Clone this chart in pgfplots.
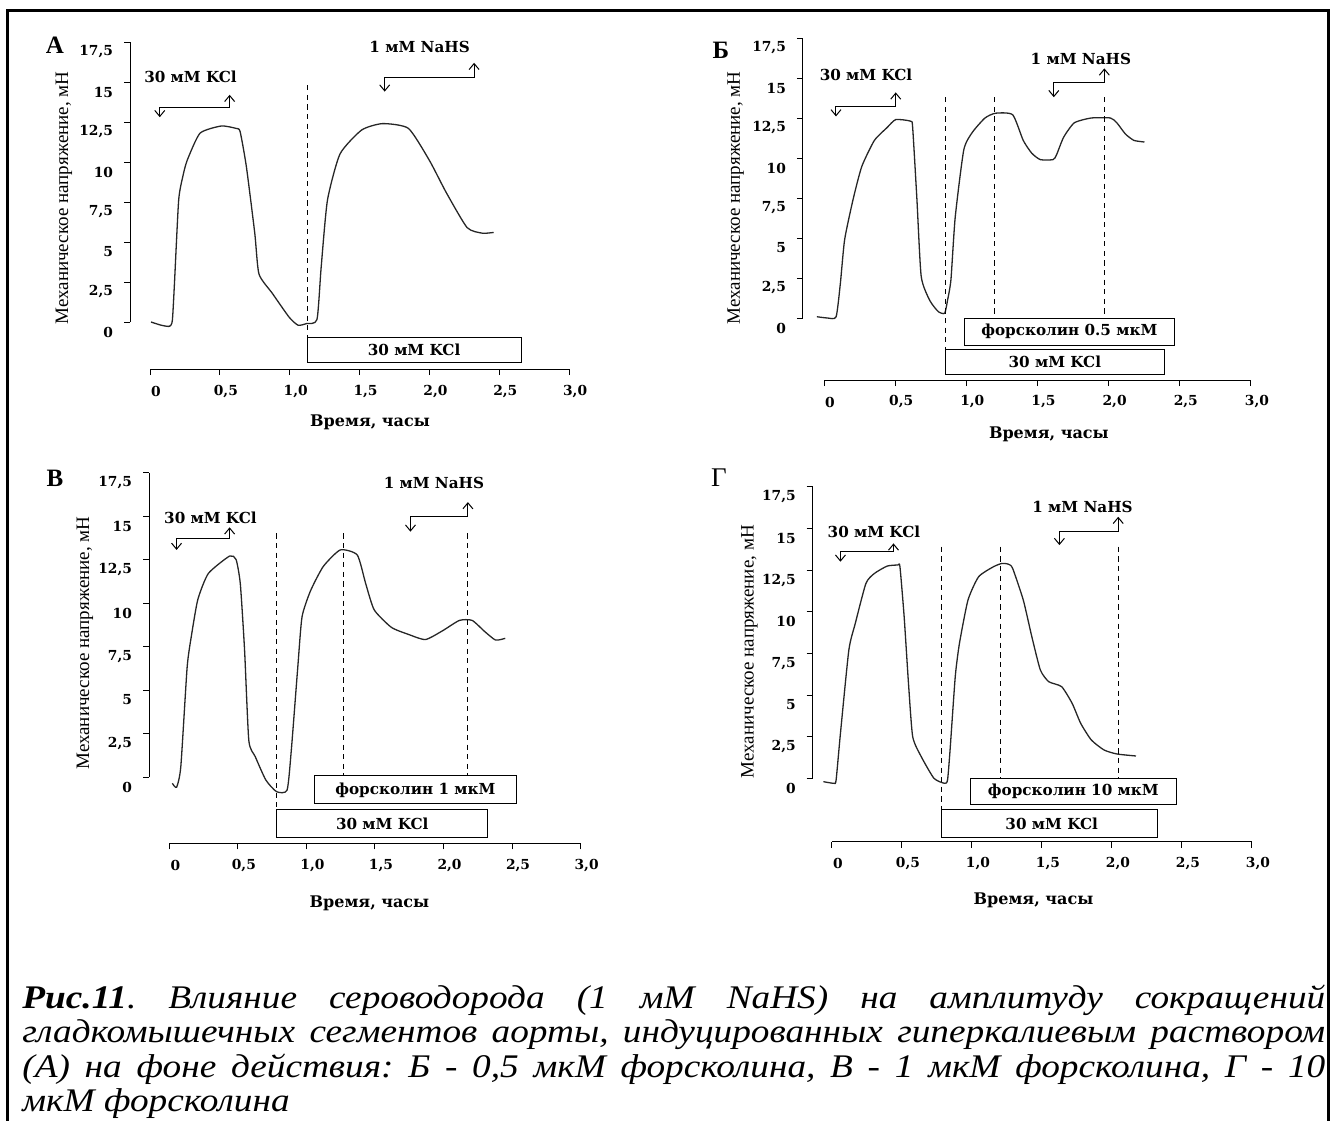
\documentclass[border=0pt]{standalone}
\usepackage{pgfplots}
\pgfplotsset{compat=1.18}
\usepackage{graphicx}
\usepackage{fontspec}
\usetikzlibrary{arrows.meta}
\setmainfont{Liberation Serif}
\newfontfamily\geo{DejaVu Serif}
\newcommand\tk{\geo\bfseries\fontsize{6.9}{8}\selectfont}
\newcommand\lb{\geo\bfseries\fontsize{7.6}{8}\selectfont}
\newcommand\tl{\geo\bfseries\fontsize{8}{9}\selectfont}
\newcommand\yl{\fontsize{9.5}{10}\selectfont}
\pgfplotsset{
  panel/.style={
    anchor=origin, clip=false,
    axis x line*=bottom, axis y line*=left,
    axis line style={draw=none},
    tick align=outside, major tick length=3pt,
    tick style={black, line width=0.5pt},
    xmax=3, ymax=17.5,
    xtick={0,0.5,1,1.5,2,2.5,3},
    xticklabels={0,{0,5},{1,0},{1,5},{2,0},{2,5},{3,0}},
    ytick={0,2.5,5,7.5,10,12.5,15,17.5},
    yticklabels={0,{2,5},5,{7,5},10,{12,5},15,{17,5}},
    ticklabel style={font=\tk},
    xticklabel style={anchor=center, yshift=-8pt, xshift=3pt},
    yticklabel style={anchor=east, yshift=-5pt, xshift=-2pt},
  },
  curve/.style={line width=0.65pt, black!85, smooth, tension=0.35},
}
\tikzset{
  vdash/.style={line width=0.5pt, dash pattern=on 2.6pt off 2.2pt},
  bx/.style={line width=0.5pt, fill=white},
  arr/.style={line width=0.5pt, {Straight Barb[length=3pt,width=5pt]}-{Straight Barb[length=3pt,width=5pt]}},
}
\begin{document}
\begin{tikzpicture}
\useasboundingbox (0,0) rectangle (666pt,-560pt);
\draw[line width=1.5pt] (3.5pt,-561pt) -- (3.5pt,-5pt) -- (664pt,-5pt) -- (664pt,-561pt);

% Panel letters
\node[font=\bfseries\fontsize{12.5}{14}\selectfont] at (27.5pt,-22.5pt) {А};
\node[font=\bfseries\fontsize{12.5}{14}\selectfont] at (360.5pt,-25pt) {Б};
\node[font=\bfseries\fontsize{12.5}{14}\selectfont] at (27.5pt,-239pt) {В};
\node[font=\fontsize{13.5}{14}\selectfont] at (359.5pt,-239pt) {Г};

% ---------------- Panel A ----------------
\begin{axis}[panel, at={(75pt,-161pt)}, x=69.85pt, y=8pt, xmin=-0.143, ymin=-2.94]
\draw[line width=0.5pt] (axis cs:-0.143,0) -- (axis cs:-0.143,17.5);
\draw[line width=0.5pt] (axis cs:0,-2.94) -- (axis cs:3,-2.94);
\addplot[curve] coordinates {(0.007,0) (0.08,-0.2) (0.14,-0.27) (0.16,0.1) (0.175,2.4) (0.205,7.6) (0.235,9.1) (0.266,10.1) (0.358,11.8) (0.51,12.25) (0.616,12.1) (0.645,11.9) (0.69,9.7) (0.75,5.55) (0.78,3.0) (0.875,1.8) (0.996,0.3) (1.06,-0.2) (1.12,-0.1) (1.195,0.15) (1.225,3.4) (1.27,7.6) (1.36,10.5) (1.515,12.0) (1.665,12.4) (1.85,12.1) (2.0,10.1) (2.12,8.1) (2.27,5.9) (2.38,5.55) (2.46,5.6)};
\draw[vdash] (axis cs:1.124,14.8) -- (axis cs:1.124,-0.94);
\draw[bx] (axis cs:1.124,-0.94) rectangle (axis cs:2.66,-2.56);
\node[font=\lb] at (axis cs:1.89,-1.75) {30 мМ KCl};
\draw[arr] (axis cs:0.07,12.8) -- (axis cs:0.07,13.4) -- (axis cs:0.57,13.4) -- (axis cs:0.57,14.2);
\node[font=\lb] at (axis cs:0.29,15.3) {30 мМ KCl};
\draw[arr] (axis cs:1.68,14.4) -- (axis cs:1.68,15.3) -- (axis cs:2.32,15.3) -- (axis cs:2.32,16.2);
\node[font=\lb] at (axis cs:1.93,17.2) {1 мМ NaHS};
\node[font=\yl, rotate=90] at (axis cs:-0.616,7.75) {Механическое напряжение, мН};
\node[font=\tl] at (axis cs:1.575,-6.25) {Время, часы};
\end{axis}

% ---------------- Panel B ----------------
\begin{axis}[panel, at={(412pt,-159pt)}, x=71.15pt, y=8pt, xmin=-0.148, ymin=-3.875]
\draw[line width=0.5pt] (axis cs:-0.148,0) -- (axis cs:-0.148,17.5);
\draw[line width=0.5pt] (axis cs:0,-3.875) -- (axis cs:3,-3.875);
\addplot[curve] coordinates {(-0.05,0.08) (0.025,0) (0.085,0.08) (0.115,2.17) (0.145,4.9) (0.204,7.4) (0.265,9.46) (0.354,11.1) (0.443,11.9) (0.504,12.4) (0.609,12.3) (0.623,11.9) (0.653,7.4) (0.683,2.6) (0.743,1.1) (0.803,0.4) (0.848,0.3) (0.868,1.1) (0.892,2.4) (0.922,6.3) (0.982,10.5) (1.042,11.6) (1.131,12.5) (1.206,12.8) (1.326,12.7) (1.40,11.1) (1.46,10.3) (1.52,9.9) (1.61,9.9) (1.634,10.2) (1.684,11.3) (1.759,12.2) (1.878,12.5) (2.013,12.5) (2.058,12.2) (2.118,11.5) (2.178,11.1) (2.252,11.0)};
\draw[vdash] (axis cs:0.854,13.8) -- (axis cs:0.854,-1.94);
\draw[vdash] (axis cs:1.198,13.8) -- (axis cs:1.198,0);
\draw[vdash] (axis cs:1.97,13.8) -- (axis cs:1.97,0);
\draw[bx] (axis cs:0.988,0) rectangle (axis cs:2.46,-1.69);
\node[font=\lb] at (axis cs:1.724,-0.845) {форсколин 0.5 мкМ};
\draw[bx] (axis cs:0.854,-1.94) rectangle (axis cs:2.39,-3.56);
\node[font=\lb] at (axis cs:1.622,-2.75) {30 мМ KCl};
\draw[arr] (axis cs:0.084,12.6) -- (axis cs:0.084,13.25) -- (axis cs:0.504,13.25) -- (axis cs:0.504,14.1);
\node[font=\lb] at (axis cs:0.295,15.2) {30 мМ KCl};
\draw[arr] (axis cs:1.615,13.8) -- (axis cs:1.615,14.7) -- (axis cs:1.97,14.7) -- (axis cs:1.97,15.6);
\node[font=\lb] at (axis cs:1.805,16.2) {1 мМ NaHS};
\node[font=\yl, rotate=90] at (axis cs:-0.62,7.5) {Механическое напряжение, мН};
\node[font=\tl] at (axis cs:1.58,-7.3) {Время, часы};
\end{axis}

% ---------------- Panel V ----------------
\begin{axis}[panel, at={(84.65pt,-388.5pt)}, x=68.55pt, y=8.7pt, xmin=-0.148, ymin=-3.81]
\draw[line width=0.5pt] (axis cs:-0.148,0) -- (axis cs:-0.148,17.5);
\draw[line width=0.5pt] (axis cs:0,-3.81) -- (axis cs:3,-3.81);
\addplot[curve] coordinates {(0.022,-0.36) (0.053,-0.59) (0.084,0.6) (0.13,6.3) (0.161,8.1) (0.208,10.2) (0.285,11.7) (0.44,12.7) (0.487,12.5) (0.518,11.1) (0.549,7.3) (0.58,2.1) (0.627,1.17) (0.704,-0.17) (0.782,-0.84) (0.859,-0.75) (0.89,1.55) (0.937,6.3) (0.968,9.2) (1.03,10.7) (1.123,12.1) (1.247,13.05) (1.371,12.76) (1.433,11.1) (1.495,9.6) (1.62,8.6) (1.743,8.2) (1.868,7.9) (1.992,8.4) (2.116,9.0) (2.209,9.0) (2.302,8.35) (2.38,7.87) (2.45,7.97)};
\draw[vdash] (axis cs:0.782,14.0) -- (axis cs:0.782,-1.86);
\draw[vdash] (axis cs:1.272,14.0) -- (axis cs:1.272,0.06);
\draw[vdash] (axis cs:2.178,14.0) -- (axis cs:2.178,0.06);
\draw[bx] (axis cs:1.061,0.06) rectangle (axis cs:2.529,-1.55);
\node[font=\lb] at (axis cs:1.795,-0.745) {форсколин 1 мкМ};
\draw[bx] (axis cs:0.782,-1.86) rectangle (axis cs:2.324,-3.49);
\node[font=\lb] at (axis cs:1.553,-2.675) {30 мМ KCl};
\draw[arr] (axis cs:0.053,13.05) -- (axis cs:0.053,13.7) -- (axis cs:0.44,13.7) -- (axis cs:0.44,14.35);
\node[font=\lb] at (axis cs:0.3,14.9) {30 мМ KCl};
\draw[arr] (axis cs:1.759,14.1) -- (axis cs:1.759,14.96) -- (axis cs:2.178,14.96) -- (axis cs:2.178,15.8);
\node[font=\lb] at (axis cs:1.93,16.9) {1 мМ NaHS};
\node[font=\yl, rotate=90] at (axis cs:-0.615,7.7) {Механическое напряжение, мН};
\node[font=\tl] at (axis cs:1.46,-7.24) {Время, часы};
\end{axis}

% ---------------- Panel G ----------------
\begin{axis}[panel, at={(415.95pt,-389.15pt)}, x=70pt, y=8.33pt, xmin=-0.137, ymin=-3.8]
\draw[line width=0.5pt] (axis cs:-0.137,0) -- (axis cs:-0.137,17.5);
\draw[line width=0.5pt] (axis cs:0,-3.8) -- (axis cs:3,-3.8);
\addplot[curve] coordinates {(-0.061,-0.2) (0.015,-0.3) (0.03,-0.1) (0.061,2.7) (0.121,7.7) (0.167,9.3) (0.243,11.7) (0.304,12.3) (0.395,12.74) (0.471,12.8) (0.486,12.7) (0.516,9.7) (0.547,5.7) (0.577,2.5) (0.638,1.3) (0.729,0) (0.805,-0.3) (0.826,-0.1) (0.844,1.7) (0.881,6.1) (0.911,8.1) (0.972,10.7) (1.048,12.1) (1.154,12.7) (1.215,12.9) (1.261,12.85) (1.291,12.6) (1.367,10.7) (1.428,8.5) (1.489,6.5) (1.549,5.8) (1.641,5.5) (1.716,4.5) (1.777,3.3) (1.853,2.3) (1.944,1.7) (2.036,1.46) (2.172,1.34)};
\draw[vdash] (axis cs:0.784,13.9) -- (axis cs:0.784,-1.9);
\draw[vdash] (axis cs:1.206,13.9) -- (axis cs:1.206,0);
\draw[vdash] (axis cs:2.045,13.9) -- (axis cs:2.045,0);
\draw[bx] (axis cs:0.987,0) rectangle (axis cs:2.461,-1.6);
\node[font=\lb] at (axis cs:1.724,-0.8) {форсколин 10 мкМ};
\draw[bx] (axis cs:0.784,-1.9) rectangle (axis cs:2.324,-3.54);
\node[font=\lb] at (axis cs:1.57,-2.72) {30 мМ KCl};
\draw[arr] (axis cs:0.061,13.0) -- (axis cs:0.061,13.6) -- (axis cs:0.44,13.6) -- (axis cs:0.44,14.1);
\node[font=\lb] at (axis cs:0.3,14.8) {30 мМ KCl};
\draw[arr] (axis cs:1.625,14.0) -- (axis cs:1.625,14.8) -- (axis cs:2.045,14.8) -- (axis cs:2.045,15.7);
\node[font=\lb] at (axis cs:1.79,16.3) {1 мМ NaHS};
\node[font=\yl, rotate=90] at (axis cs:-0.59,7.6) {Механическое напряжение, мН};
\node[font=\tl] at (axis cs:1.44,-7.3) {Время, часы};
\end{axis}

% ---------------- Caption ----------------
\node[anchor=base west, inner sep=0pt] at (11pt,-504pt) {\scalebox{1.13}[1]{\parbox[t]{576.5pt}{\frenchspacing\fontsize{16.5}{17.25}\selectfont\itshape
\textbf{Рис.11}. Влияние сероводорода (1 мМ NaHS) на амплитуду сокращений\linebreak
гладкомышечных сегментов аорты, индуцированных гиперкалиевым раствором\linebreak
(А) на фоне действия: Б - 0,5 мкМ форсколина, В - 1 мкМ форсколина, Г - 10\linebreak
мкМ форсколина}}};
\end{tikzpicture}
\end{document}
